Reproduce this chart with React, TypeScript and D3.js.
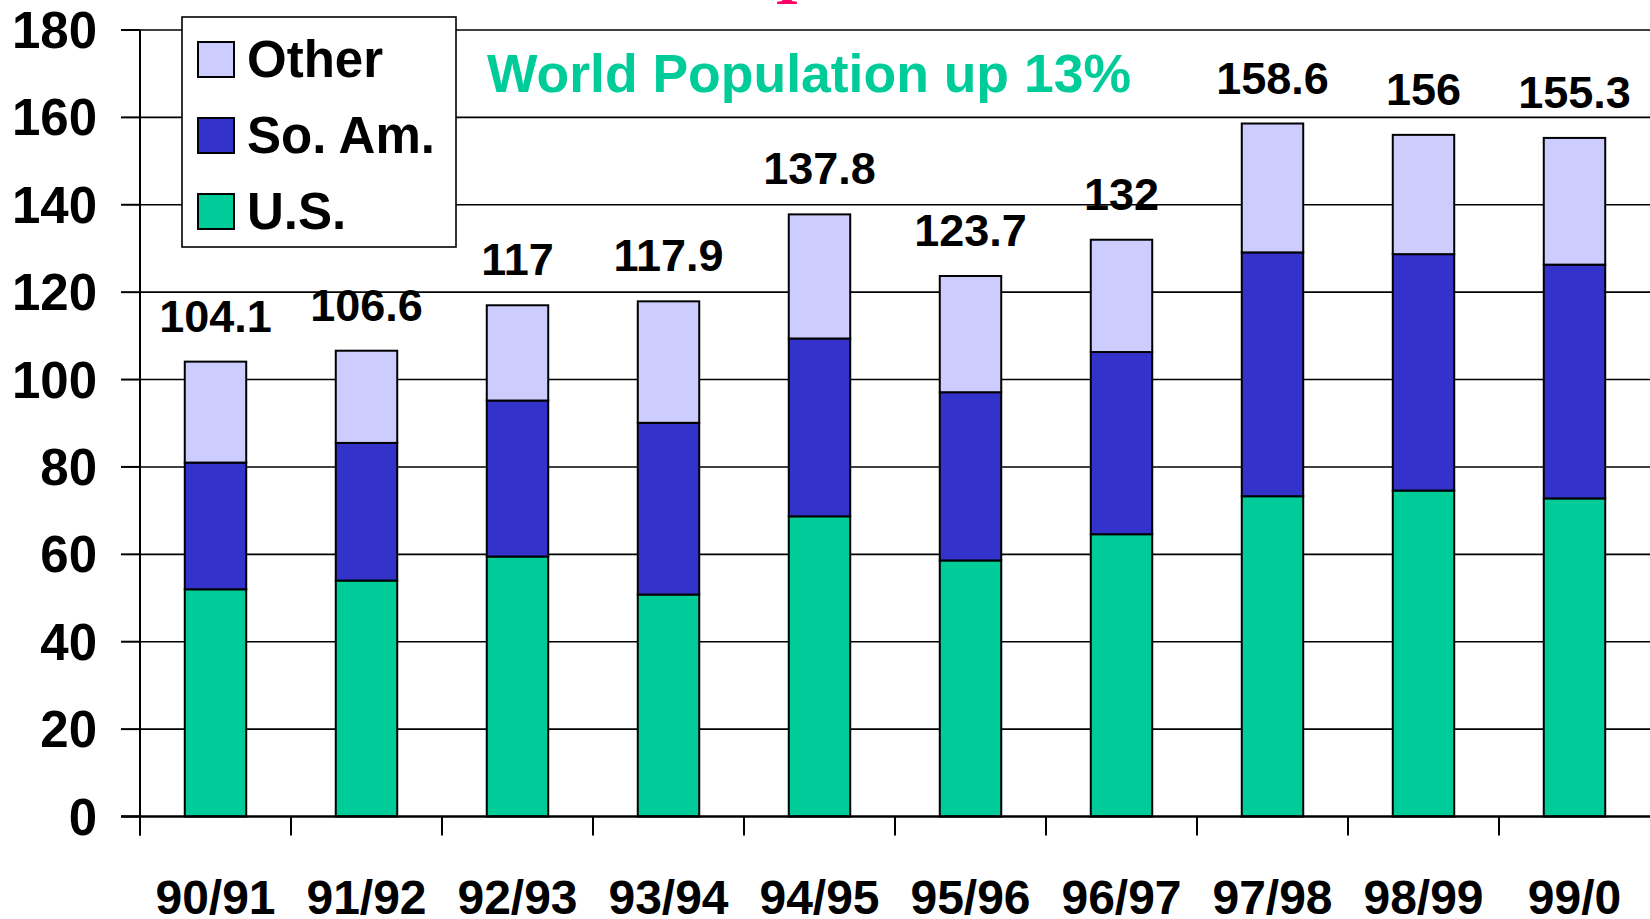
import React from "react";
import * as d3 from "d3";

// Seasons along the x axis
const seasons = ["90/91", "91/92", "92/93", "93/94", "94/95", "95/96", "96/97", "97/98", "98/99", "99/0"];

// Stacked series, bottom to top
const usValues = [52.0, 54.0, 59.5, 50.8, 68.7, 58.6, 64.6, 73.3, 74.6, 72.8];
const soAmValues = [29.0, 31.5, 35.7, 39.3, 40.7, 38.5, 41.7, 55.8, 54.1, 53.5];
const otherValues = [23.1, 21.1, 21.8, 27.8, 28.4, 26.6, 25.7, 29.5, 27.3, 29.0];

const yTicks = [0, 20, 40, 60, 80, 100, 120, 140, 160, 180];

const seriesKeys = ["us", "soAm", "other"] as const;
const seriesNames: Record<string, string> = { us: "U.S.", soAm: "So. Am.", other: "Other" };
const seriesColors: Record<string, string> = { us: "#00CC99", soAm: "#3333CC", other: "#CCCCFF" };
const legendOrder = ["other", "soAm", "us"];

const titleText = "World Population up 13%";

const W = 1650;
const H = 919;
const FONT = "'Liberation Sans', Arial, Helvetica, sans-serif";

export default function App() {
  const rows = seasons.map((s, i) => ({
    season: s,
    us: usValues[i],
    soAm: soAmValues[i],
    other: otherValues[i],
  }));

  const stacked = d3.stack<any>().keys(seriesKeys as unknown as string[])(rows);

  const x = d3
    .scaleBand<string>()
    .domain(seasons)
    .range([140, 1650])
    .paddingInner(0.593)
    .paddingOuter(0.2965);
  const y = d3.scaleLinear().domain([0, 180]).range([816.5, 30]);

  const step = x.step();
  const bw = x.bandwidth();
  const gap = step - bw;
  const boundaries = seasons.map((s) => (x(s) as number) - gap / 2);

  const totals = rows.map((r) => +(r.us + r.soAm + r.other).toFixed(1));

  const y0 = y(0);

  return (
    <svg
      width={W}
      height={H}
      viewBox={`0 0 ${W} ${H}`}
      style={{ position: "absolute", left: 0, top: 0, display: "block", background: "#fff" }}
      fontFamily={FONT}
    >
      <rect x={0} y={0} width={W} height={H} fill="#fff" />

      {/* pink glyph foot peeking in at the top edge */}
      <text
        x={787}
        y={4}
        textAnchor="middle"
        fontFamily="'Liberation Serif', 'Times New Roman', serif"
        fontWeight="bold"
        fontSize={62}
        fill="#FF0066"
      >
        I
      </text>

      {/* horizontal gridlines */}
      {yTicks
        .filter((t) => t > 0)
        .map((t) => (
          <line key={`g${t}`} x1={140} x2={W} y1={y(t)} y2={y(t)} stroke="#000" strokeWidth={1.6} />
        ))}

      {/* stacked bars */}
      {stacked.map((layer) => (
        <g key={layer.key}>
          {layer.map((d, i) => (
            <rect
              key={i}
              x={x(seasons[i])}
              y={y(d[1])}
              width={bw}
              height={y(d[0]) - y(d[1])}
              fill={seriesColors[layer.key]}
              stroke="#000"
              strokeWidth={2}
            />
          ))}
        </g>
      ))}

      {/* y axis with outward ticks */}
      <line x1={140} x2={140} y1={y(180)} y2={y0 + 19} stroke="#000" strokeWidth={2} />
      {yTicks.map((t) => (
        <g key={`yt${t}`}>
          <line x1={121} x2={140} y1={y(t)} y2={y(t)} stroke="#000" strokeWidth={2} />
          <text
            x={97}
            y={y(t) + 18}
            textAnchor="end"
            fontSize={51}
            fontWeight="bold"
            fill="#000"
          >
            {t}
          </text>
        </g>
      ))}

      {/* x axis */}
      <line x1={121} x2={W} y1={y0} y2={y0} stroke="#000" strokeWidth={2.4} />
      {boundaries.map((bx, i) => (
        <line key={`xt${i}`} x1={bx} x2={bx} y1={y0} y2={y0 + 19} stroke="#000" strokeWidth={2} />
      ))}
      {seasons.map((s) => (
        <text
          key={`xl${s}`}
          x={(x(s) as number) + bw / 2}
          y={914}
          textAnchor="middle"
          fontSize={48}
          fontWeight="bold"
          fill="#000"
        >
          {s}
        </text>
      ))}

      {/* total labels above each bar */}
      {seasons.map((s, i) => (
        <text
          key={`tl${s}`}
          x={(x(s) as number) + bw / 2}
          y={y(totals[i]) - 30}
          textAnchor="middle"
          fontSize={45}
          fontWeight="bold"
          fill="#000"
        >
          {String(totals[i])}
        </text>
      ))}

      {/* legend */}
      <rect x={182} y={17} width={274} height={230} fill="#fff" stroke="#000" strokeWidth={1.6} />
      {legendOrder.map((k, i) => {
        const top = 42 + i * 76;
        return (
          <g key={`lg${k}`}>
            <rect x={198} y={top} width={36} height={35} fill={seriesColors[k]} stroke="#000" strokeWidth={2} />
            <text x={247} y={top + 35} fontSize={51} fontWeight="bold" fill="#000">
              {seriesNames[k]}
            </text>
          </g>
        );
      })}

      {/* headline */}
      <text x={487} y={92} fontSize={53.5} fontWeight="bold" fill="#00CC99">
        {titleText}
      </text>
    </svg>
  );
}
